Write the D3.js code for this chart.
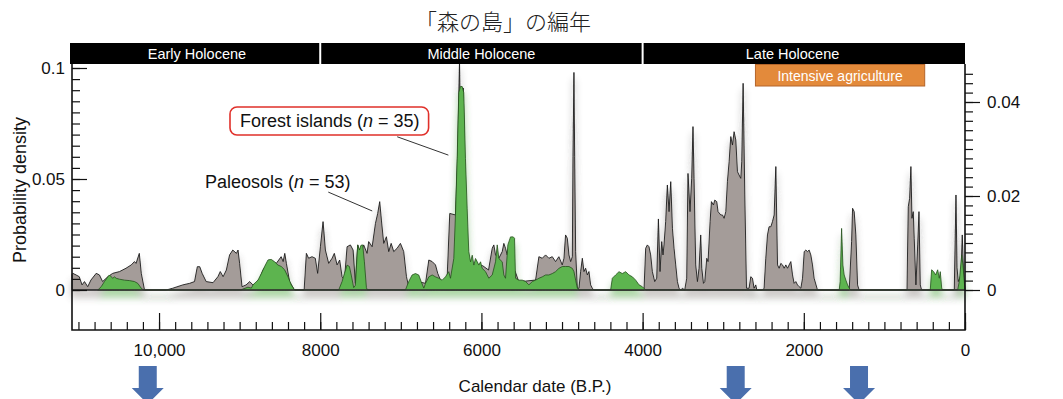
<!DOCTYPE html>
<html><head><meta charset="utf-8">
<script src="https://cdnjs.cloudflare.com/ajax/libs/d3/7.8.5/d3.min.js"></script>
<style>body{margin:0;background:#fff;} svg{display:block;font-family:"Liberation Sans",Arial,sans-serif;}</style>
</head><body><svg id="chart" width="1063" height="399"></svg>
<script>
// ---------------- DATA ----------------
const chartTitle = "「森の島」の編年";
const eraNames = ["Early Holocene", "Middle Holocene", "Late Holocene"];
const eraStarts = [11080, 8000, 4000];
const eraEnds = [8000, 4000, 0];
const eraLabelYears = [9530, 6000, 2140];
const agricultureLabel = "Intensive agriculture";
const agricultureSpan = [2600, 500];
const arrowYears = [10140, 2845, 1315];

const xMajorTicks = [10000, 8000, 6000, 4000, 2000, 0];
const xMajorLabels = ["10,000", "8000", "6000", "4000", "2000", "0"];
const xMinorStep = 200;
const yLeftMajor = [0, 0.05, 0.1];
const yLeftLabels = ["0", "0.05", "0.1"];
const yLeftMinorStep = 0.005;
const yRightMajor = [0, 0.02, 0.04];
const yRightLabels = ["0", "0.02", "0.04"];
const yRightMinorStep = 0.002;
const yRightMinorMax = 0.046;

const xTitle = "Calendar date (B.P.)";
const yTitle = "Probability density";
const paleoLabel = "Paleosols (", paleoN = "53";
const forestLabel = "Forest islands (", forestN = "35";

// Paleosols summed probability (left axis): [calendar year B.P., density]
const paleosols = [
[11080,0.0070],[11070,0.0075],[11030,0.0068],[10990,0.0060],[10955,0.0023],[10925,0.0038],[10885,0.0015],[10845,0.0045],[10780,0.0075],[10740,0.0068],[10700,0.0038],[10635,0.0060],[10575,0.0075],[10490,0.0083],[10410,0.0098],[10345,0.0113],[10305,0.0128],[10285,0.0120],[10245,0.0165],[10220,0.0075],[10180,0],
[9910,0],[9830,0.0008],[9705,0.0023],[9620,0.0030],[9560,0.0038],[9525,0.0105],[9495,0.0105],[9465,0.0075],[9415,0.0038],[9330,0.0033],[9270,0.0060],[9240,0.0083],[9205,0.0060],[9165,0.0090],[9125,0.0158],[9085,0.0180],[9040,0.0165],[9020,0.0180],[9000,0.0120],[8970,0.0015],[8920,0.0023],[8875,0.0038],[8835,0.0023],[8795,0.0030],[8750,0.0053],[8710,0.0090],[8630,0.0135],[8545,0.0120],[8485,0.0150],[8460,0.0128],[8440,0.0165],[8420,0.0120],[8380,0.0038],[8320,0],
[8200,0],[8172,0.0165],[8144,0.0143],[8102,0.0150],[8061,0.0143],[8032,0.0075],[7998,0.0195],[7965,0.0308],[7936,0.0180],[7895,0.0120],[7853,0.0143],[7825,0.0165],[7791,0.0113],[7759,0.0135],[7729,0.0060],[7700,0.0045],[7667,0.0195],[7626,0.0203],[7592,0.0180],[7564,0.0030],[7535,0.0203],[7502,0.0165],[7461,0.0203],[7419,0.0165],[7399,0.0218],[7356,0.0195],[7315,0.0300],[7287,0.0345],[7262,0.0398],[7241,0.0315],[7212,0.0210],[7179,0.0240],[7150,0.0173],[7120,0.0210],[7088,0.0173],[7046,0.0188],[7005,0.0210],[6964,0.0173],[6930,0.0060],[6902,0.0015],
[6840,0.0025],[6756,0.0035],[6694,0.0030],[6653,0.0135],[6611,0.0128],[6570,0.0113],[6542,0.0075],[6508,0.0045],[6467,0.0023],[6425,0.0060],[6393,0.0345],[6322,0.0338],[6297,0.0600],[6272,0.1030],[6253,0.0600],[6226,0.0910],[6198,0.0400],[6173,0.0150],[6135,0.0120],
[6073,0.0100],[5986,0.0110],[5912,0.0090],[5866,0.0188],[5846,0.0203],[5825,0.0158],[5784,0.0143],[5742,0.0173],[5722,0.0210],[5701,0.0188],[5680,0.0158],[5659,0.0200],[5639,0.0120],[5577,0.0080],[5539,0.0040],[5452,0.0040],[5328,0.0045],[5287,0.0150],[5245,0.0143],[5204,0.0158],[5163,0.0143],[5121,0.0150],[5080,0.0128],[5039,0.0150],[4997,0.0113],[4976,0.0143],[4956,0.0248],[4934,0.0233],[4914,0.0158],[4893,0.0128],[4872,0.0150],[4864,0.0600],[4852,0.0980],[4843,0.0600],[4831,0.0173],[4810,0.0008],[4790,0.0008],[4769,0.0083],[4748,0.0143],[4728,0.0083],[4707,0.0098],[4686,0.0068],[4666,0.0083],[4645,0.0023],[4624,0.0008],[4604,0],
[3983,0],[3962,0.0188],[3941,0.0203],[3921,0.0195],[3900,0.0158],[3879,0.0083],[3850,0.0038],[3825,0.0053],[3804,0.0320],[3784,0.0083],[3763,0.0218],[3747,0.0158],[3735,0.0203],[3714,0.0308],[3693,0.0473],[3672,0.0353],[3651,0.0488],[3630,0.0278],[3610,0.0188],[3589,0.0113],[3568,0.0038],[3548,0.0008],[3527,0],[3506,0.0008],[3478,0],[3453,0.0053],[3437,0.0525],[3412,0.0353],[3391,0.0503],[3375,0.0736],[3362,0.0503],[3341,0.0113],[3320,0.0038],[3300,0.0098],[3279,0.0248],[3266,0.0098],[3245,0.0030],[3229,0.0038],[3204,0.0143],[3188,0.0128],[3163,0.0308],[3146,0.0398],[3121,0.0383],[3105,0.0405],[3080,0.0398],[3064,0.0353],[3030,0.0338],[3009,0.0338],[2989,0.0323],[2968,0.0353],[2948,0.0488],[2927,0.0578],[2906,0.0691],[2885,0.0653],[2865,0.0713],[2844,0.0676],[2823,0.0533],[2803,0.0518],[2782,0.0503],[2770,0.0578],[2753,0.0931],[2732,0.0428],[2711,0.0008],[2679,0.0008],[2658,0.0060],[2637,0.0053],[2617,0.0008],[2596,0.0023],[2583,0],
[2513,0],[2493,0.0008],[2472,0.0143],[2451,0.0248],[2431,0.0285],[2409,0.0285],[2389,0.0308],[2368,0.0338],[2347,0.0556],[2326,0.0113],[2306,0.0098],[2285,0.0120],[2264,0.0113],[2244,0.0098],[2223,0.0113],[2202,0.0098],[2182,0.0113],[2161,0.0128],[2140,0.0068],[2120,0.0030],[2099,0.0038],[2078,0.0023],[2058,0.0015],[2037,0.0008],[2016,0.0053],[1995,0.0173],[1975,0.0180],[1954,0.0173],[1934,0.0180],[1913,0.0158],[1892,0.0113],[1872,0.0053],[1830,0],
[1437,0],[1407,0.0218],[1395,0.0368],[1375,0.0353],[1354,0.0248],[1333,0.0023],[1313,0],
[720,0],[704,0.0375],[687,0.0413],[671,0.0556],[658,0.0323],[642,0.0353],[630,0.0233],[609,0.0023],[587,0.0203],[571,0.0353],[555,0.0023],[538,0],
[133,0],[112,0.0428],[99,0.0100],[83,0.0038],[50,0.0068],[34,0.0248],[16,0.0053],[0,0.0008]
];

// Forest islands summed probability (right axis): [calendar year B.P., density]
const forestIslands = [
[10760,0],[10718,0.0007],[10677,0.0018],[10635,0.0028],[10615,0.0032],[10594,0.0028],[10573,0.0025],[10553,0.0028],[10532,0.0025],[10491,0.0023],[10429,0.0021],[10367,0.0020],[10305,0.0018],[10263,0.0014],[10222,0.0004],[10193,0],
[8980,0],[8960,0.0002],[8897,0.0006],[8855,0.0004],[8834,0.0011],[8772,0.0021],[8731,0.0035],[8690,0.0050],[8648,0.0064],[8607,0.0065],[8566,0.0060],[8524,0.0053],[8483,0.0050],[8442,0.0043],[8400,0.0028],[8359,0.0011],[8318,0],
[7771,0],[7729,0.0018],[7700,0.0035],[7667,0.0053],[7638,0.0050],[7613,0.0030],[7585,0.0005],[7564,0.0010],[7535,0.0096],[7514,0.0085],[7495,0.0095],[7473,0.0096],[7452,0.0060],[7427,0.0005],[7415,0],
[6943,0],[6902,0.0018],[6860,0.0032],[6819,0.0035],[6778,0.0032],[6748,0.0018],[6715,0.0004],[6694,0.0014],[6673,0.0021],[6653,0.0028],[6611,0.0032],[6570,0.0028],[6529,0.0025],[6487,0.0021],[6446,0.0028],[6405,0.0039],[6384,0.0025],[6343,0.0067],[6322,0.0160],[6301,0.0280],[6281,0.0420],[6260,0.0433],[6239,0.0433],[6219,0.0420],[6198,0.0280],[6177,0.0174],[6157,0.0082],[6135,0.0060],[6114,0.0074],[6094,0.0053],[6073,0.0067],[6052,0.0060],[6032,0.0053],[6011,0.0060],[5990,0.0046],[5949,0.0039],[5908,0.0025],[5866,0.0032],[5825,0.0060],[5804,0.0096],[5784,0.0067],[5742,0.0060],[5722,0.0032],[5701,0.0025],[5672,0.0096],[5639,0.0113],[5605,0.0113],[5589,0.0110],[5577,0.0025],[5535,0.0021],[5494,0.0021],[5452,0.0018],[5411,0.0011],[5369,0.0018],[5328,0.0021],[5287,0.0025],[5245,0.0028],[5204,0.0032],[5163,0.0032],[5121,0.0035],[5080,0.0039],[5039,0.0046],[4997,0.0050],[4956,0.0050],[4914,0.0050],[4872,0.0046],[4852,0.0039],[4831,0.0021],[4810,0.0004],[4790,0],
[4397,0],[4376,0.0025],[4335,0.0032],[4293,0.0039],[4252,0.0035],[4210,0.0039],[4169,0.0032],[4127,0.0028],[4086,0.0021],[4045,0.0011],[4003,0.0007],[3962,0],
[1561,0],[1549,0.0018],[1531,0.0131],[1515,0.0053],[1499,0.0032],[1478,0.0021],[1457,0.0011],[1437,0.0004],[1416,0],
[431,0],[414,0.0043],[389,0.0039],[364,0.0032],[339,0.0043],[319,0.0025],[307,0.0039],[289,0.0004],[277,0],
[91,0],[71,0.0018],[41,0.0074],[25,0.0053],[9,0.0018],[0,0]
];

// annotation anchors in data space: [year, value]
const forestLeader = [[7045, 0.0326], [6410, 0.0287]];   // right-axis units
const paleoLeader = [[7900, 0.0441], [7355, 0.0356]];    // left-axis units

// ---------------- DRAW ----------------
const svg = d3.select("#chart");
const L = 72, R = 965, T = 64, B = 330;

const x = d3.scaleLinear().domain([11080, 0]).range([L, R]);
const yL = d3.scaleLinear().domain([0, 0.1]).range([290, 68]);
const yR = d3.scaleLinear().domain([0, 0.04]).range([290, 102]);

const defs = svg.append("defs");
const f = defs.append("filter").attr("id", "sh").attr("filterUnits", "userSpaceOnUse")
  .attr("x", 0).attr("y", 0).attr("width", 1063).attr("height", 399);
f.append("feGaussianBlur").attr("in", "SourceGraphic").attr("stdDeviation", 3.5).attr("result", "b");
f.append("feOffset").attr("in", "b").attr("dy", 7).attr("result", "o");
f.append("feComponentTransfer").attr("in", "o").attr("result", "t")
  .append("feFuncA").attr("type", "linear").attr("slope", 0.5);
const m = f.append("feMerge");
m.append("feMergeNode").attr("in", "t");
m.append("feMergeNode").attr("in", "SourceGraphic");

// title
svg.append("text").attr("x", 503).attr("y", 30).attr("text-anchor", "middle")
  .style("font-family", "'Noto Sans CJK JP', sans-serif").style("font-size", "22px")
  .style("font-weight", 300).attr("fill", "#222").text(chartTitle);

// areas
const areaL = d3.area().x(d => x(d[0])).y0(yL(0)).y1(d => yL(d[1]));
const areaR = d3.area().x(d => x(d[0])).y0(yR(0)).y1(d => yR(d[1]));
const plotG = svg.append("g").attr("filter", "url(#sh)");
plotG.append("path").datum(paleosols).attr("d", areaL)
  .attr("fill", "#a49c99").attr("stroke", "#1c1c1c").attr("stroke-width", 0.9).attr("stroke-linejoin", "round");
plotG.append("path").datum(forestIslands).attr("d", areaR)
  .attr("fill", "#5db450").attr("stroke", "#244f1c").attr("stroke-width", 0.8).attr("stroke-linejoin", "round");

// baseline
svg.append("line").attr("x1", L).attr("x2", R).attr("y1", yL(0)).attr("y2", yL(0))
  .attr("stroke", "#333").attr("stroke-width", 1.5);

// header bar
svg.append("rect").attr("x", 70).attr("y", 43).attr("width", R - 70).attr("height", 21).attr("fill", "#000");
eraStarts.slice(1).forEach(yr => {
  svg.append("line").attr("x1", x(yr)).attr("x2", x(yr)).attr("y1", 43).attr("y2", 64)
    .attr("stroke", "#fff").attr("stroke-width", 2);
});
eraNames.forEach((n, i) => {
  svg.append("text").attr("x", x(eraLabelYears[i])).attr("y", 59).attr("text-anchor", "middle")
    .attr("fill", "#fff").style("font-size", "14.5px").text(n);
});

// agriculture box
svg.append("rect").attr("x", x(agricultureSpan[0])).attr("y", 64.5)
  .attr("width", x(agricultureSpan[1]) - x(agricultureSpan[0])).attr("height", 21.5)
  .attr("fill", "#e38a3b").attr("stroke", "#b4652a").attr("stroke-width", 1);
svg.append("text").attr("x", (x(agricultureSpan[0]) + x(agricultureSpan[1])) / 2).attr("y", 80.5)
  .attr("text-anchor", "middle").attr("fill", "#fff").style("font-size", "14px").text(agricultureLabel);

// frame
svg.append("path").attr("d", `M${L},${T}V${B}H${R}V${T}`).attr("fill", "none")
  .attr("stroke", "#111").attr("stroke-width", 1.6);

function styleAxis(g) {
  g.select(".domain").remove();
  g.selectAll("line").attr("stroke", "#111").attr("stroke-width", 1.2);
  g.selectAll("text").attr("fill", "#111").style("font-size", "17px").style("font-family", "'Liberation Sans', Arial, sans-serif");
}

// left axis
svg.append("g").attr("transform", `translate(${L},0)`)
  .call(d3.axisLeft(yL).tickValues(d3.range(0, 0.1001, yLeftMinorStep)).tickSize(-8).tickFormat(""))
  .call(styleAxis);
svg.append("g").attr("transform", `translate(${L},0)`)
  .call(d3.axisLeft(yL).tickValues(yLeftMajor).tickSize(-15).tickPadding(7)
    .tickFormat((d, i) => yLeftLabels[i]))
  .call(styleAxis);

// right axis
svg.append("g").attr("transform", `translate(${R},0)`)
  .call(d3.axisRight(yR).tickValues(d3.range(0, yRightMinorMax + 0.0001, yRightMinorStep)).tickSize(8).tickFormat(""))
  .call(styleAxis);
svg.append("g").attr("transform", `translate(${R},0)`)
  .call(d3.axisRight(yR).tickValues(yRightMajor).tickSize(15).tickPadding(7)
    .tickFormat((d, i) => yRightLabels[i]))
  .call(styleAxis);

// bottom axis
svg.append("g").attr("transform", `translate(0,${B})`)
  .call(d3.axisBottom(x).tickValues(d3.range(0, 11001, xMinorStep)).tickSize(-8).tickFormat(""))
  .call(styleAxis);
svg.append("g").attr("transform", `translate(0,${B})`)
  .call(d3.axisBottom(x).tickValues(xMajorTicks).tickSize(-17).tickPadding(14)
    .tickFormat((d, i) => xMajorLabels[i]))
  .call(styleAxis);

// axis titles
svg.append("text").attr("x", 535).attr("y", 392).attr("text-anchor", "middle")
  .attr("fill", "#111").style("font-size", "17px").text(xTitle);
svg.append("text").attr("transform", "translate(26,190) rotate(-90)").attr("text-anchor", "middle")
  .attr("fill", "#111").style("font-size", "18px").text(yTitle);

// annotations
function label(tx, ty, pre, n) {
  const t = svg.append("text").attr("x", tx).attr("y", ty).attr("fill", "#111").style("font-size", "18px");
  t.append("tspan").text(pre);
  t.append("tspan").style("font-style", "italic").text("n");
  t.append("tspan").text(" = " + n + ")");
  return t;
}
const ft = label(240, 127, forestLabel, forestN);
const bb = ft.node().getBBox();
svg.append("rect").attr("x", bb.x - 10).attr("y", bb.y - 4)
  .attr("width", bb.width + 19).attr("height", bb.height + 8).attr("rx", 7)
  .attr("fill", "none").attr("stroke", "#e0302a").attr("stroke-width", 1.6);
label(205, 188, paleoLabel, paleoN);

svg.append("line").attr("x1", x(forestLeader[0][0])).attr("y1", yR(forestLeader[0][1]))
  .attr("x2", x(forestLeader[1][0])).attr("y2", yR(forestLeader[1][1]))
  .attr("stroke", "#333").attr("stroke-width", 1);
svg.append("line").attr("x1", x(paleoLeader[0][0])).attr("y1", yL(paleoLeader[0][1]))
  .attr("x2", x(paleoLeader[1][0])).attr("y2", yL(paleoLeader[1][1]))
  .attr("stroke", "#333").attr("stroke-width", 1);

// arrows
arrowYears.forEach(yr => {
  const cx = x(yr);
  const p = `M${cx - 9},366 H${cx + 9} V388 H${cx + 16} L${cx},404 L${cx - 16},388 H${cx - 9} Z`;
  svg.append("path").attr("d", p).attr("fill", "#4a6fad");
});
</script></body></html>
